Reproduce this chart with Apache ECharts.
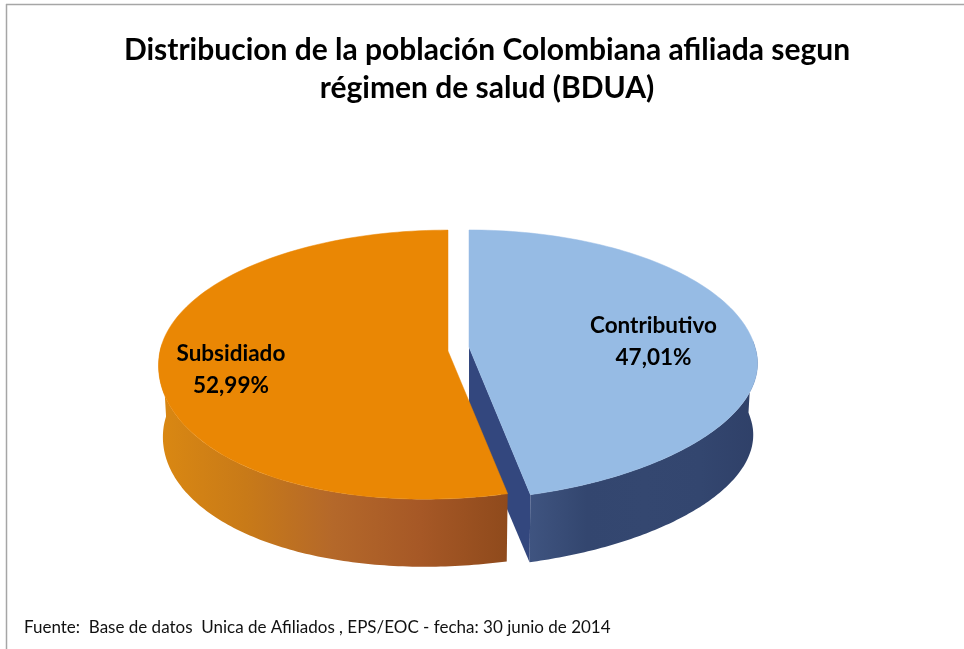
<!DOCTYPE html>
<html>
<head>
<meta charset="utf-8">
<style>html,body{margin:0;padding:0;background:#fff}#c{width:964px;height:649px}</style>
<script src="https://cdn.jsdelivr.net/npm/echarts@6/dist/echarts.min.js"></script>
</head>
<body>
<div id="c"></div>
<script>
var categories = ['Contributivo', 'Subsidiado'];
var values = [47.01, 52.99];
var titleText = 'Distribucion de la población Colombiana afiliada segun\nrégimen de salud (BDUA)';
var sourceText = 'Fuente:  Base de datos  Unica de Afiliados , EPS/EOC - fecha: 30 junio de 2014';

var FONT = 'Lato, Carlito, "Open Sans", sans-serif';
var total = values.reduce(function (a, b) { return a + b; }, 0);

// Pie projection (tilted disc seen in perspective)
var DEPTH = 72, BX = 0.985, BY = 0.97, TILT = 12;
var slices = [
  { apex: [469, 347], A: 286, B: 132.6, P: 0.133, top: '#96BBE4',
    wall: ['#3F5480', '#33466F', '#344770', '#33466F', '#2F4068'], inner: '#33477E',
    labelAt: 0.656, labelDy: 3 },
  { apex: [448, 351], A: 288, B: 133, P: 0.1, top: '#EA8704',
    wall: ['#DA8812', '#C87A18', '#B4682A', '#A65826', '#8F4A1C'],
    labelAt: 0.75, labelDy: 8 }
];

function project(s, t, bottom) {
  var apex = s.apex;
  var u = Math.sin(t), v = -Math.cos(t), w = 1 - s.P * v;
  var X = s.A * u / w, Y = s.B * v / w - (v > 0 ? TILT * u * v : 0);
  return bottom
    ? [apex[0] + X * BX, apex[1] + Y * BY + DEPTH]
    : [apex[0] + X, apex[1] + Y];
}
function arc(s, t0, t1, bottom) {
  var pts = [], n = 120;
  for (var i = 0; i <= n; i++) pts.push(project(s, t0 + (t1 - t0) * i / n, bottom));
  return pts;
}
function wallFill(stops) {
  return { type: 'linear', x: 0, y: 0, x2: 1, y2: 0,
    colorStops: stops.map(function (c, i) { return { offset: i / (stops.length - 1), color: c }; }) };
}

function renderItem(params, api) {
  var idx = params.dataIndex, s = slices[idx];
  var before = 0;
  for (var i = 0; i < idx; i++) before += values[i];
  var value = api.value(0);
  var t0 = before / total * 2 * Math.PI;
  var t1 = (before + value) / total * 2 * Math.PI;
  var apex = s.apex, children = [];

  // outer wall: only the front-facing part of the rim
  var w0 = Math.max(t0, Math.PI / 2 - 0.05), w1 = Math.min(t1, 3 * Math.PI / 2 + 0.05);
  var topRim = arc(s, w0, w1, false);
  var botRim = arc(s, w0, w1, true);
  children.push({ type: 'polygon', shape: { points: topRim.concat(botRim.reverse()) },
    style: { fill: wallFill(s.wall) } });

  // cut wall visible only on the first slice
  if (s.inner) {
    children.push({ type: 'polygon', shape: { points: [
      apex, project(s, t1, false), project(s, t1, true), [apex[0], apex[1] + DEPTH]
    ] }, style: { fill: s.inner } });
  }

  // top face
  children.push({ type: 'polygon',
    shape: { points: [apex].concat(arc(s, t0, t1, false)) },
    style: { fill: s.top, stroke: s.top, lineWidth: 0.5 } });

  // label
  var mid = project(s, (t0 + t1) / 2, false);
  children.push({ type: 'text', z2: 10, style: {
    x: apex[0] + (mid[0] - apex[0]) * s.labelAt,
    y: apex[1] + (mid[1] - apex[1]) * s.labelAt + s.labelDy,
    text: categories[idx] + '\n' + value.toFixed(2).replace('.', ',') + '%',
    align: 'center', verticalAlign: 'middle',
    font: 'bold 22.5px ' + FONT, lineHeight: 32, fill: '#000'
  } });
  return { type: 'group', children: children };
}

var chart = echarts.init(document.getElementById('c'), null, { renderer: 'canvas' });
chart.setOption({
  animation: false,
  backgroundColor: '#fff',
  tooltip: { show: false },
  title: [
    { text: titleText, left: 482, top: 26, textAlign: 'center',
      textStyle: { fontFamily: FONT, fontSize: 30, fontWeight: 'bold', color: '#000', lineHeight: 38 } },
    { text: sourceText, left: 19, top: 614,
      textStyle: { fontFamily: FONT, fontSize: 17, fontWeight: 'normal', color: '#111' } }
  ],
  graphic: [
    { type: 'line', silent: true, shape: { x1: 6.5, y1: 4, x2: 6.5, y2: 649 }, style: { stroke: '#A6A6A6', lineWidth: 1.5 } },
    { type: 'line', silent: true, shape: { x1: 6, y1: 4.5, x2: 964, y2: 4.5 }, style: { stroke: '#A6A6A6', lineWidth: 1.5 } }
  ],
  series: [{
    type: 'custom',
    coordinateSystem: 'none',
    renderItem: renderItem,
    data: values.map(function (v, i) { return { name: categories[i], value: [v] }; })
  }]
});
</script>
</body>
</html>
